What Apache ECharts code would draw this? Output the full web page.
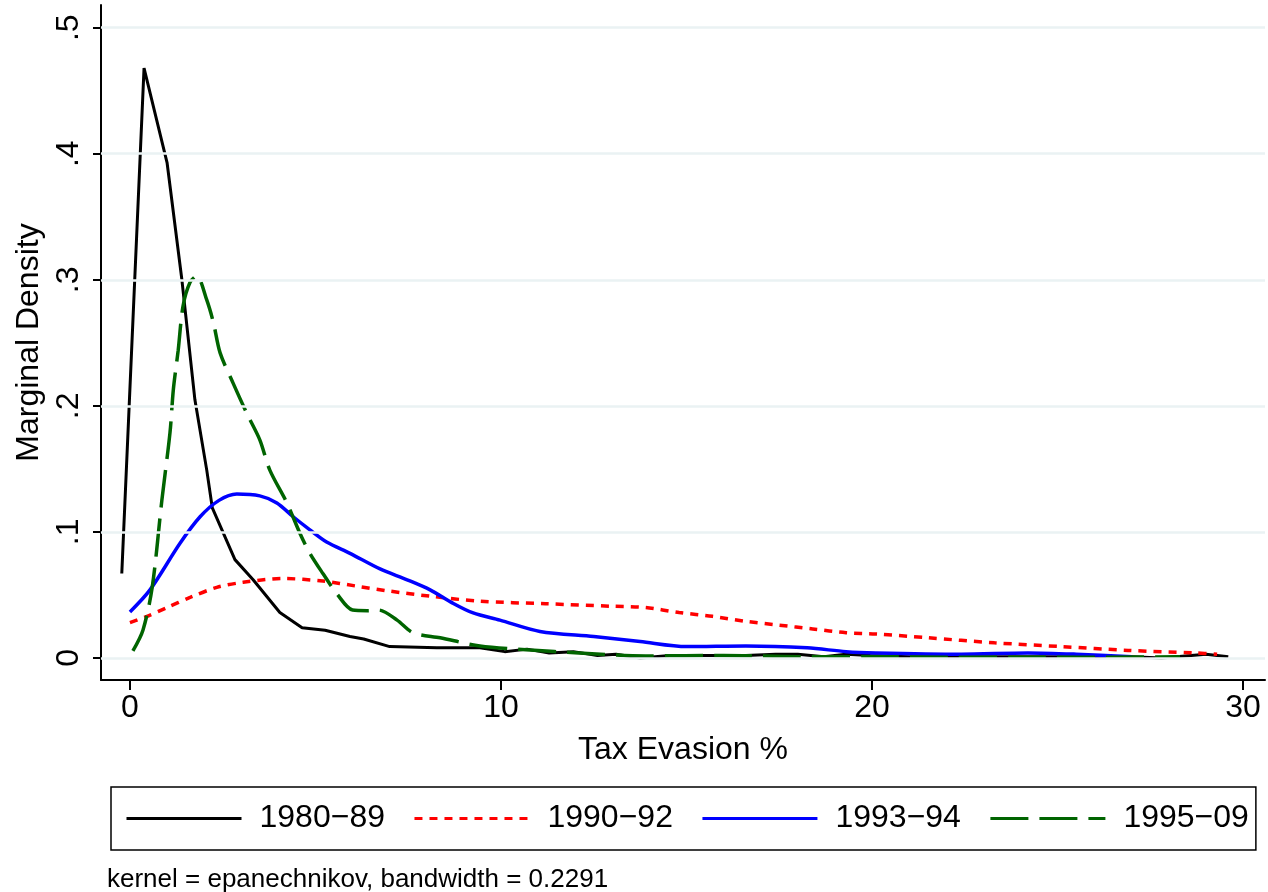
<!DOCTYPE html>
<html>
<head>
<meta charset="utf-8">
<script src="https://cdn.jsdelivr.net/npm/echarts@6/dist/echarts.min.js"></script>
<style>
  html, body { margin: 0; padding: 0; background: #fff; }
  #main { width: 1268px; height: 892px; }
</style>
</head>
<body>
<div id="main"></div>
<script>
// tick values
var xTicks = [0, 10, 20, 30];
var yTicks = [0, 0.1, 0.2, 0.3, 0.4, 0.5];

// 1980-89
var evasion8089 = [-0.22, 0.38, 1.0, 1.4, 1.75, 2.07, 2.22, 2.83, 3.32, 4.04, 4.64, 5.26, 5.93, 6.3, 7.0, 8.27, 9.43, 10.1, 10.7, 11.3, 11.95, 12.6, 13.1, 13.75, 14.55, 15.7, 16.6, 17.4, 18.0, 18.7, 19.3, 19.95, 21, 22, 23, 24, 25, 26, 27, 27.8, 29.0, 29.6];
var density8089 = [0.067, 0.468, 0.393, 0.30, 0.205, 0.149, 0.119, 0.078, 0.062, 0.036, 0.024, 0.022, 0.017, 0.015, 0.009, 0.008, 0.008, 0.005, 0.007, 0.004, 0.005, 0.002, 0.003, 0.0, 0.002, 0.002, 0.002, 0.003, 0.003, 0.001, 0.003, 0.002, 0.001, 0.001, 0.001, 0.001, 0.001, 0.001, 0.001, 0.0, 0.003, 0.001];

// 1990-92
var evasion9092 = [0, 0.46, 1.0, 1.62, 2.34, 3.05, 4.12, 5.2, 6.1, 7.0, 8.09, 9.43, 11.2, 13.0, 13.9, 14.8, 15.7, 16.6, 17.5, 18.4, 19.3, 20.1, 21.5, 23.3, 25.1, 26.9, 28.7, 29.3];
var density9092 = [0.028, 0.033, 0.040, 0.048, 0.056, 0.060, 0.063, 0.061, 0.057, 0.053, 0.049, 0.045, 0.043, 0.041, 0.040, 0.036, 0.033, 0.029, 0.026, 0.023, 0.020, 0.019, 0.016, 0.012, 0.009, 0.006, 0.004, 0.003];

// 1993-94
var evasion9394 = [0, 0.54, 1.35, 1.89, 2.4, 2.88, 3.5, 3.96, 4.4, 4.85, 5.3, 5.93, 6.74, 7.47, 8.09, 8.7, 9.25, 9.97, 11.05, 12.5, 13.75, 15.0, 16.6, 18.25, 19.3, 20.1, 22.4, 24.2, 25.5, 27.0];
var density9394 = [0.0365, 0.054, 0.091, 0.112, 0.125, 0.130, 0.1286, 0.123, 0.112, 0.1016, 0.092, 0.083, 0.0706, 0.062, 0.054, 0.0435, 0.0357, 0.030, 0.021, 0.017, 0.013, 0.009, 0.0095, 0.008, 0.005, 0.004, 0.003, 0.004, 0.003, 0.001];

// 1995-09
var evasion9509 = [0.08, 0.35, 0.6, 0.86, 1.08, 1.17, 1.3, 1.43, 1.62, 1.8, 2.07, 2.25, 2.43, 2.78, 3.15, 3.5, 3.77, 4.23, 4.58, 4.85, 5.2, 5.6, 6.0, 6.4, 6.7, 7.2, 7.63, 8.36, 9.43, 10.78, 12.1, 13.9, 16, 18, 20, 22, 24, 26, 28.3];
var density9509 = [0.0056, 0.022, 0.056, 0.125, 0.179, 0.213, 0.244, 0.279, 0.298, 0.303, 0.284, 0.266, 0.242, 0.218, 0.194, 0.173, 0.149, 0.123, 0.099, 0.083, 0.067, 0.050, 0.038, 0.0375, 0.038, 0.030, 0.020, 0.016, 0.0095, 0.0063, 0.004, 0.0016, 0.002, 0.001, 0.001, 0.0005, 0.0005, 0.0005, 0.001];

var FONT = "'Liberation Sans', Arial, sans-serif";

function pairs(xs, ys) {
  return xs.map(function (x, i) { return [x, ys[i]]; });
}

var chart = echarts.init(document.getElementById('main'));

var option = {
  animation: false,
  backgroundColor: '#fff',
  textStyle: { fontFamily: FONT },
  title: {
    text: 'kernel = epanechnikov, bandwidth = 0.2291',
    left: 102,
    top: 862,
    textStyle: { fontFamily: FONT, fontSize: 26, fontWeight: 'normal', color: '#000' }
  },
  grid: { left: 101, right: 3, top: 5, bottom: 212, containLabel: false },
  xAxis: {
    type: 'value',
    min: -0.78,
    max: 30.59,
    name: 'Tax Evasion %',
    nameLocation: 'middle',
    nameGap: 54,
    nameTextStyle: { fontFamily: FONT, fontSize: 32, color: '#000', verticalAlign: 'top' },
    axisLine: { show: true, onZero: false, lineStyle: { color: '#000', width: 2 } },
    axisTick: { show: true, customValues: xTicks, length: 10, lineStyle: { color: '#000', width: 2 } },
    axisLabel: { show: true, customValues: xTicks, fontSize: 32, color: '#000', margin: 12, fontFamily: FONT },
    splitLine: { show: false }
  },
  yAxis: {
    type: 'value',
    min: -0.0175,
    max: 0.518,
    name: 'Marginal Density',
    nameLocation: 'middle',
    nameGap: 51,
    nameTextStyle: { fontFamily: FONT, fontSize: 32, color: '#000' },
    axisLine: { show: true, onZero: false, lineStyle: { color: '#000', width: 2 } },
    axisTick: { show: true, customValues: yTicks, length: 8, lineStyle: { color: '#000', width: 2 } },
    axisLabel: {
      show: true,
      customValues: yTicks,
      rotate: 90,
      fontSize: 32,
      color: '#000',
      margin: 16,
      fontFamily: FONT,
      formatter: function (v) { return v === 0 ? '0' : String(v).replace(/^0/, ''); }
    },
    splitLine: { show: false }
  },
  legend: {
    data: ['1980\u221289', '1990\u221292', '1993\u221294', '1995\u221209'],
    orient: 'horizontal',
    left: 111,
    top: 787,
    padding: [15, 7, 15, 14],
    itemGap: 28,
    itemWidth: 115,
    itemHeight: 14,
    borderColor: '#000',
    borderWidth: 1.5,
    borderRadius: 0,
    itemStyle: { opacity: 0, borderWidth: 0 },
    lineStyle: { width: 3 },
    textStyle: { fontFamily: FONT, fontSize: 32, color: '#000', lineHeight: 33, padding: [0, 0, 0, 13] }
  },
  series: [
    {
      type: 'line',
      data: [],
      silent: true,
      z: 1,
      markLine: {
        silent: true,
        symbol: ['none', 'none'],
        label: { show: false },
        lineStyle: { color: '#eaf2f3', width: 2.5, type: 'solid' },
        data: yTicks.map(function (v) { return { yAxis: v }; })
      }
    },
    {
      name: '1980\u221289',
      type: 'line',
      data: pairs(evasion8089, density8089),
      showSymbol: false,
      symbol: 'none',
      z: 3,
      lineStyle: { color: '#000', width: 3 },
      itemStyle: { color: '#000' }
    },
    {
      name: '1990\u221292',
      type: 'line',
      data: pairs(evasion9092, density9092),
      showSymbol: false,
      symbol: 'none',
      smooth: 0.3,
      z: 3,
      lineStyle: { color: '#ff0000', width: 3.5, type: [8, 7] },
      itemStyle: { color: '#ff0000' }
    },
    {
      name: '1993\u221294',
      type: 'line',
      data: pairs(evasion9394, density9394),
      showSymbol: false,
      symbol: 'none',
      smooth: 0.3,
      z: 3,
      lineStyle: { color: '#0000ff', width: 3.5 },
      itemStyle: { color: '#0000ff' }
    },
    {
      name: '1995\u221209',
      type: 'line',
      data: pairs(evasion9509, density9509),
      showSymbol: false,
      symbol: 'none',
      smooth: 0.3,
      z: 3,
      lineStyle: { color: '#006400', width: 3.5, type: [38, 11] },
      itemStyle: { color: '#006400' }
    }
  ]
};

chart.setOption(option);
</script>
</body>
</html>
